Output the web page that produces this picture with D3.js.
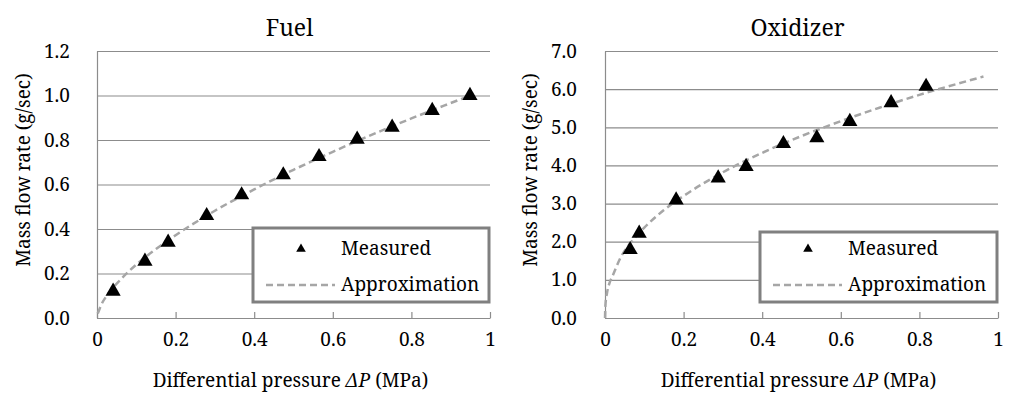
<!DOCTYPE html>
<html>
<head>
<meta charset="utf-8">
<script src="https://cdn.jsdelivr.net/npm/d3@7"></script>
<style>
  body { margin: 0; background: #fff; }
</style>
</head>
<body>
<div id="chart"></div>
<script>
// measured points
var fuelDp = [0.041, 0.122, 0.181, 0.279, 0.368, 0.474, 0.565, 0.662, 0.751, 0.853, 0.949];
var fuelFlow = [0.12, 0.255, 0.34, 0.46, 0.553, 0.643, 0.725, 0.803, 0.857, 0.932, 1.0];
var oxDp = [0.064, 0.087, 0.181, 0.288, 0.359, 0.454, 0.539, 0.623, 0.728, 0.817];
var oxFlow = [1.79, 2.22, 3.09, 3.67, 3.97, 4.57, 4.72, 5.15, 5.64, 6.07];

// dashed approximation curves
var fuelApproxDp = [0.002, 0.01, 0.03, 0.06, 0.1, 0.15, 0.2, 0.3, 0.4, 0.5, 0.6, 0.7, 0.8, 0.9, 0.95];
var fuelApproxFlow = [0.02, 0.056, 0.112, 0.173, 0.24, 0.31, 0.372, 0.482, 0.578, 0.666, 0.747, 0.824, 0.897, 0.966, 1.0];
var oxApproxDp = [0, 0.001, 0.005, 0.01, 0.02, 0.04, 0.07, 0.1, 0.15, 0.2, 0.3, 0.4, 0.5, 0.6, 0.7, 0.8, 0.9, 0.963];
var oxApproxFlow = [0, 0.32, 0.65, 0.87, 1.12, 1.59, 2.03, 2.37, 2.83, 3.2, 3.82, 4.33, 4.77, 5.16, 5.52, 5.85, 6.15, 6.33];

// ticks
var xTicks = [0, 0.2, 0.4, 0.6, 0.8, 1];
var fuelYTicks = [0, 0.2, 0.4, 0.6, 0.8, 1.0, 1.2];
var oxYTicks = [0, 1, 2, 3, 4, 5, 6, 7];

var W = 1009, H = 397;
var FONT = "'Noto Serif', 'Liberation Serif', serif";

var svg = d3.select("#chart").append("svg")
  .attr("width", W)
  .attr("height", H)
  .style("font-family", FONT);

var gridColor = "#8c8c8c";
var curveColor = "#a6a6a6";

function label(sel, size) {
  return sel.attr("font-family", FONT).style("font-family", FONT)
    .style("font-size", size + "px").attr("fill", "#000");
}

function drawPanel(p) {
  var width = p.right - p.left;
  var height = p.bottom - p.top;
  var g = svg.append("g").attr("transform", "translate(" + p.left + "," + p.top + ")");

  var x = d3.scaleLinear().domain([0, 1]).range([0, width]);
  var y = d3.scaleLinear().domain([0, p.yMax]).range([height, 0]);

  // y axis + gridlines
  var yAxis = g.append("g")
    .call(d3.axisLeft(y).tickValues(p.yTicks).tickSize(-width).tickSizeOuter(0)
      .tickPadding(p.yPad).tickFormat(d3.format(".1f")));
  yAxis.attr("font-family", FONT);
  yAxis.selectAll("line").attr("stroke", gridColor).attr("stroke-width", 1.2);
  yAxis.select(".domain").attr("stroke", gridColor).attr("stroke-width", 1.2);
  label(yAxis.selectAll("text"), 19);

  // x axis with small inward ticks
  var xAxis = g.append("g")
    .attr("transform", "translate(0," + height + ")")
    .call(d3.axisBottom(x).tickValues(xTicks).tickSize(-6).tickSizeOuter(0)
      .tickPadding(15).tickFormat(d3.format("~g")));
  xAxis.attr("font-family", FONT);
  xAxis.selectAll("line").attr("stroke", gridColor).attr("stroke-width", 1.2);
  xAxis.select(".domain").attr("stroke", gridColor).attr("stroke-width", 1.2);
  label(xAxis.selectAll("text"), 19);

  // approximation curve
  var line = d3.line()
    .x(function (d) { return x(d[0]); })
    .y(function (d) { return y(d[1]); })
    .curve(d3.curveMonotoneX);
  g.append("path")
    .datum(d3.zip(p.apxX, p.apxY))
    .attr("fill", "none")
    .attr("stroke", curveColor)
    .attr("stroke-width", 2.5)
    .attr("stroke-dasharray", "7,4")
    .attr("d", line);

  // measured triangles
  var tri = d3.symbol().type(d3.symbolTriangle).size(100);
  g.selectAll(".pt")
    .data(d3.zip(p.ptX, p.ptY))
    .join("path")
    .attr("class", "pt")
    .attr("transform", function (d) { return "translate(" + x(d[0]) + "," + y(d[1]) + ")"; })
    .attr("d", tri)
    .attr("fill", "#000");

  // title
  label(svg.append("text"), 23)
    .attr("x", p.left + width / 2 - 4)
    .attr("y", 36)
    .attr("text-anchor", "middle")
    .text(p.title);

  // axis titles
  label(svg.append("text"), 19)
    .attr("transform", "translate(" + p.yLabelX + ",170) rotate(-90)")
    .attr("text-anchor", "middle")
    .text("Mass flow rate (g/sec)");

  var xl = label(svg.append("text"), 19)
    .attr("x", p.left + width / 2 - 3)
    .attr("y", 387)
    .attr("text-anchor", "middle");
  xl.append("tspan").text("Differential pressure ");
  xl.append("tspan").style("font-style", "italic").text("\u0394P");
  xl.append("tspan").text(" (MPa)");

  // legend
  var lg = svg.append("g").attr("transform", "translate(" + p.legX + "," + p.legBottom + ")");
  lg.append("rect")
    .attr("x", 0).attr("y", -p.legH)
    .attr("width", p.legW).attr("height", p.legH)
    .attr("fill", "#fff")
    .attr("stroke", "#808080")
    .attr("stroke-width", 3);
  lg.append("path")
    .attr("transform", "translate(48,-53)")
    .attr("d", d3.symbol().type(d3.symbolTriangle).size(40))
    .attr("fill", "#000");
  label(lg.append("text"), 19).attr("x", 88).attr("y", -47).text("Measured");
  lg.append("line")
    .attr("x1", 13).attr("x2", 82).attr("y1", -17).attr("y2", -17)
    .attr("stroke", curveColor).attr("stroke-width", 2.5).attr("stroke-dasharray", "7,4");
  label(lg.append("text"), 19).attr("x", 88).attr("y", -11).text("Approximation");
}

drawPanel({
  title: "Fuel", left: 97, right: 490, top: 51, bottom: 318,
  yMax: 1.2, yTicks: fuelYTicks, yPad: 27, yLabelX: 30,
  ptX: fuelDp, ptY: fuelFlow, apxX: fuelApproxDp, apxY: fuelApproxFlow,
  legX: 253, legBottom: 302, legW: 236, legH: 74
});

drawPanel({
  title: "Oxidizer", left: 605, right: 998, top: 51, bottom: 318,
  yMax: 7, yTicks: oxYTicks, yPad: 28, yLabelX: 537,
  ptX: oxDp, ptY: oxFlow, apxX: oxApproxDp, apxY: oxApproxFlow,
  legX: 760, legBottom: 302, legW: 237, legH: 70
});
</script>
</body>
</html>
